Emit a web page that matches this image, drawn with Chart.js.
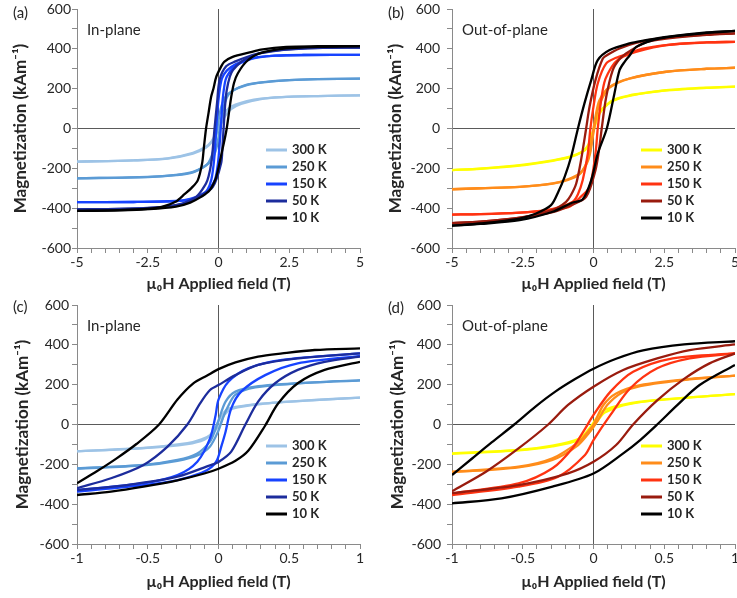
<!DOCTYPE html>
<html>
<head>
<meta charset="utf-8">
<script src="https://cdn.jsdelivr.net/npm/chart.js@4.4.1/dist/chart.umd.min.js"></script>
<style>
  body { margin: 0; background: #fff; }
  #wrap { position: relative; width: 737px; height: 598px; overflow: hidden; }
  canvas { position: absolute; }
</style>
</head>
<body>
<div id="wrap">
  <canvas id="panelA" width="368" height="298" style="left:0;top:0"></canvas>
  <canvas id="panelB" width="369" height="298" style="left:368px;top:0"></canvas>
  <canvas id="panelC" width="368" height="300" style="left:0;top:298px"></canvas>
  <canvas id="panelD" width="369" height="300" style="left:368px;top:298px"></canvas>
</div>
<script>
const temps = ['300 K', '250 K', '150 K', '50 K', '10 K'];
const magTicks = [-600, -400, -200, 0, 200, 400, 600];
const wideFieldTicks = [-5, -2.5, 0, 2.5, 5];
const narrowFieldTicks = [-1, -0.5, 0, 0.5, 1];

// (a) in-plane, full field range. [field T, M kA/m], down branch then up branch
const a300Down = [[5,166],[3.5,163],[2.5,160],[1.5,150],[1.0,138],[0.6,120],[0.35,100],[0.15,65],[0,15],[-0.1,-25],[-0.25,-65],[-0.45,-92],[-0.9,-122],[-1.8,-150],[-3,-160],[-5,-166]];
const a300Up = [[-5,-166],[-3,-160],[-1.8,-151],[-0.9,-126],[-0.45,-97],[-0.2,-62],[-0.05,-20],[0.1,25],[0.25,66],[0.45,98],[0.8,124],[1.5,148],[2.5,159],[3.5,163],[5,166]];
const a250Down = [[5,250],[3.5,248],[2.5,243],[1.5,230],[1.0,218],[0.5,190],[0.25,160],[0.1,110],[0,40],[-0.08,-30],[-0.2,-120],[-0.4,-180],[-0.9,-218],[-1.5,-233],[-2.5,-243],[-5,-250]];
const a250Up = [[-5,-250],[-2.5,-244],[-1.5,-234],[-0.9,-220],[-0.45,-186],[-0.25,-160],[-0.1,-112],[0,-45],[0.08,28],[0.2,118],[0.4,178],[0.9,216],[1.5,232],[2.5,243],[3.5,248],[5,250]];
const a150Down = [[5,370],[3,369],[2,366],[1.4,358],[1,345],[0.6,322],[0.3,292],[0.12,250],[0.02,170],[-0.04,80],[-0.09,-20],[-0.15,-150],[-0.25,-255],[-0.4,-310],[-0.6,-340],[-1,-357],[-1.5,-365],[-3,-369],[-5,-370]];
const a150Up = [[-5,-370],[-3,-369],[-1.5,-364],[-1,-353],[-0.6,-332],[-0.3,-297],[-0.12,-255],[-0.02,-175],[0.04,-80],[0.09,20],[0.15,150],[0.25,245],[0.4,285],[0.6,315],[1,342],[1.4,357],[2,366],[3,369],[5,370]];
const a50Down = [[5,406],[3.5,405],[2.3,396],[1.5,380],[1.1,364],[0.6,337],[0.27,312],[0.04,245],[-0.05,130],[-0.14,0],[-0.2,-100],[-0.26,-176],[-0.35,-240],[-0.44,-276],[-0.79,-343],[-1.5,-385],[-2.3,-398],[-3.5,-404],[-5,-406]];
const a50Up = [[-5,-406],[-3.5,-404],[-2.3,-397],[-1.26,-378],[-0.7,-342],[-0.2,-293],[0.09,-176],[0.14,-90],[0.18,0],[0.23,110],[0.29,192],[0.4,260],[0.51,293],[0.8,335],[1.1,358],[1.5,378],[2.3,395],[3.5,404],[5,406]];
const a10Down = [[5,414],[3.5,413],[2.4,410],[1.5,396],[1.1,382],[0.5,360],[0.2,335],[0.09,310],[-0.08,259],[-0.18,200],[-0.26,159],[-0.35,80],[-0.44,0],[-0.52,-100],[-0.58,-176],[-0.73,-259],[-0.95,-298],[-1.2,-330],[-1.5,-366],[-2,-393],[-2.5,-403],[-3.5,-410],[-5,-414]];
const a10Up = [[-5,-414],[-3.5,-411],[-2.44,-405],[-1.5,-392],[-1,-372],[-0.6,-342],[-0.32,-312],[-0.1,-252],[-0.02,-209],[0.1,-130],[0.21,-59],[0.29,0],[0.37,80],[0.45,159],[0.55,230],[0.68,276],[0.98,335],[1.45,377],[2.39,402],[3.5,410],[5,414]];

// (b) out-of-plane, full field range
const b300Down = [[5,210],[4,205],[2.57,192],[1.5,172],[1.27,166],[0.68,142],[0.33,101],[0.15,62],[0.07,28],[-0.02,-18],[-0.08,-55],[-0.2,-93],[-0.38,-116],[-0.8,-140],[-1.44,-160],[-2.61,-184],[-4,-201],[-5,-209]];
const b300Up = [[-5,-209],[-4,-202],[-2.61,-186],[-1.44,-162],[-0.8,-143],[-0.45,-122],[-0.25,-97],[-0.12,-62],[-0.05,-28],[0.05,14],[0.12,48],[0.3,94],[0.68,138],[1.27,164],[2.57,191],[4,204],[5,210]];
const b250Down = [[5,305],[4,300],[2.57,285],[1.27,251],[0.57,209],[0.21,142],[0.07,59],[0,0],[-0.07,-70],[-0.14,-125],[-0.3,-190],[-0.49,-226],[-0.9,-255],[-1.44,-276],[-2.61,-293],[-4,-300],[-5,-305]];
const b250Up = [[-5,-305],[-4,-300],[-2.61,-293],[-1.44,-277],[-0.9,-258],[-0.5,-230],[-0.25,-180],[-0.12,-125],[-0.03,-45],[0.05,20],[0.14,90],[0.3,150],[0.57,205],[1.27,250],[2.57,285],[4,300],[5,305]];
const b150Down = [[5,435],[4,432],[2.57,419],[1.7,400],[1.27,377],[0.8,355],[0.45,327],[0.15,226],[-0.02,92],[-0.11,0],[-0.2,-125],[-0.38,-259],[-0.55,-330],[-0.73,-368],[-1.2,-395],[-1.67,-410],[-2.6,-422],[-4,-430],[-5,-432]];
const b150Up = [[-5,-432],[-4,-430],[-2.6,-422],[-1.67,-412],[-1.2,-403],[-0.85,-393],[-0.5,-350],[-0.14,-293],[0.07,-125],[0.15,0],[0.27,142],[0.38,230],[0.51,276],[0.75,330],[1.04,360],[1.5,385],[2.57,419],[4,432],[5,435]];
const b50Down = [[5,478],[4,472],[2.33,452],[1.5,430],[0.92,402],[0.5,370],[0.33,351],[0.07,243],[-0.14,109],[-0.26,0],[-0.44,-159],[-0.61,-276],[-0.8,-335],[-0.97,-368],[-1.3,-400],[-1.67,-418],[-2.5,-445],[-4,-468],[-5,-475]];
const b50Up = [[-5,-475],[-4,-468],[-2.5,-446],[-1.44,-420],[-0.8,-385],[-0.26,-343],[0.07,-209],[0.21,-92],[0.29,0],[0.45,159],[0.68,293],[0.9,345],[1.15,377],[1.86,433],[2.5,450],[4,470],[5,478]];
const b10Down = [[5,490],[4,482],[2.57,460],[1.8,442],[1.27,427],[0.57,394],[0.15,343],[-0.08,243],[-0.32,126],[-0.55,0],[-0.79,-142],[-1.02,-243],[-1.25,-320],[-1.5,-385],[-2.03,-427],[-2.61,-452],[-4,-477],[-5,-488]];
const b10Up = [[-5,-488],[-4,-479],[-2.61,-460],[-1.44,-418],[-0.8,-375],[-0.38,-355],[-0.08,-259],[0.15,-126],[0.47,0],[0.74,176],[0.92,293],[1.1,335],[1.27,365],[1.51,410],[2.1,444],[2.57,458],[4,480],[5,490]];

// (c) in-plane, low field
const c300Down = [[1,135],[0.68,123],[0.33,106],[0.12,88],[0.05,70],[0.01,30],[-0.02,-10],[-0.06,-53],[-0.12,-75],[-0.22,-94],[-0.53,-118],[-1,-134]];
const c300Up = [[-1,-135],[-0.53,-119],[-0.22,-98],[-0.1,-76],[-0.04,-42],[0.01,0],[0.04,48],[0.1,80],[0.3,103],[0.68,122],[1,135]];
const c250Down = [[1,222],[0.56,207],[0.26,190],[0.12,165],[0.05,115],[0,20],[-0.03,-40],[-0.06,-86],[-0.15,-145],[-0.29,-178],[-0.53,-203],[-1,-220]];
const c250Up = [[-1,-222],[-0.53,-205],[-0.29,-182],[-0.15,-155],[-0.06,-110],[0,-30],[0.03,30],[0.06,80],[0.12,150],[0.26,186],[0.56,206],[1,222]];
const c150Down = [[1,357],[0.45,324],[0.21,282],[0.07,215],[0,125],[-0.02,48],[-0.06,-70],[-0.15,-187],[-0.29,-254],[-0.53,-295],[-1,-329]];
const c150Up = [[-1,-337],[-0.53,-304],[-0.29,-279],[-0.12,-243],[-0.05,-214],[-0.01,-178],[0.02,-110],[0.05,-36],[0.09,81],[0.16,165],[0.33,248],[0.56,307],[1,345]];
const c50Down = [[1,357],[0.56,332],[0.28,299],[0.12,248],[0,198],[-0.06,173],[-0.13,106],[-0.22,0],[-0.36,-111],[-0.53,-203],[-0.76,-270],[-1,-320]];
const c50Up = [[-1,-329],[-0.65,-304],[-0.29,-262],[-0.06,-205],[0,-188],[0.09,-136],[0.19,0],[0.28,115],[0.4,207],[0.56,274],[0.75,315],[1,341]];
const c10Down = [[1,382],[0.68,374],[0.45,357],[0.28,341],[0.12,312],[0,278],[-0.08,246],[-0.18,205],[-0.29,125],[-0.42,0],[-0.58,-98],[-0.72,-170],[-0.86,-235],[-1,-295]];
const c10Up = [[-1,-354],[-0.76,-337],[-0.53,-312],[-0.29,-280],[-0.1,-246],[0,-222],[0.12,-182],[0.21,-132],[0.33,-5],[0.42,104],[0.56,207],[0.75,274],[1,315]];

// (d) out-of-plane, low field
const d300Down = [[1,153],[0.45,123],[0.21,100],[0.07,70],[0.02,30],[-0.03,-20],[-0.1,-70],[-0.29,-106],[-0.53,-128],[-1,-145]];
const d300Up = [[-1,-147],[-0.53,-130],[-0.29,-110],[-0.1,-78],[-0.02,-30],[0.03,20],[0.08,60],[0.21,96],[0.45,122],[1,153]];
const d250Down = [[1,245],[0.68,229],[0.33,198],[0.16,156],[0.07,98],[0,0],[-0.05,-45],[-0.1,-86],[-0.29,-170],[-0.53,-212],[-1,-237]];
const d250Up = [[-1,-240],[-0.53,-215],[-0.29,-178],[-0.12,-110],[-0.03,-40],[0.03,20],[0.1,100],[0.2,160],[0.33,193],[0.68,227],[1,245]];
const d150Down = [[1,357],[0.56,332],[0.28,265],[0.12,165],[0,48],[-0.06,-22],[-0.15,-120],[-0.29,-220],[-0.53,-296],[-1,-346]];
const d150Up = [[-1,-354],[-0.53,-312],[-0.25,-262],[-0.06,-153],[0,-78],[0.12,48],[0.26,182],[0.45,282],[0.68,332],[1,357]];
const d50Down = [[1,402],[0.68,374],[0.45,332],[0.21,274],[0,190],[-0.18,98],[-0.32,0],[-0.53,-120],[-0.76,-237],[-1,-335]];
const d50Up = [[-1,-345],[-0.53,-304],[-0.18,-245],[0,-187],[0.16,-103],[0.28,0],[0.45,121],[0.64,229],[0.82,307],[1,357]];
const d10Down = [[1,418],[0.64,402],[0.35,372],[0.16,330],[0,280],[-0.13,228],[-0.27,165],[-0.41,90],[-0.56,0],[-0.72,-90],[-0.86,-172],[-1,-254]];
const d10Up = [[-1,-396],[-0.65,-371],[-0.29,-312],[0,-246],[0.21,-145],[0.33,-78],[0.45,0],[0.59,96],[0.75,198],[1,299]];

const blueColors = ['#9dc3e6', '#5b9bd5', '#1743ff', '#1c2c9c', '#000000'];
const redColors = ['#ffff00', '#ff8c1a', '#ff3311', '#991b0e', '#000000'];

const FONT = 'Lato, "DejaVu Sans", sans-serif';
const TEXT = '#262626';

const panels = [
  { id: 'panelA', letter: '(a)', label: 'In-plane', colors: blueColors, ticks: wideFieldTicks, step: 0.5,
    loops: [[a300Down, a300Up], [a250Down, a250Up], [a150Down, a150Up], [a50Down, a50Up], [a10Down, a10Up]],
    w: 368, h: 298, L: 77, R: 360, T: 9, B: 248, tickPad: 1, yTitlePad: 11, xTitlePad: 5, letterX: 13, letterY: 13 },
  { id: 'panelB', letter: '(b)', label: 'Out-of-plane', colors: redColors, ticks: wideFieldTicks, step: 0.5,
    loops: [[b300Down, b300Up], [b250Down, b250Up], [b150Down, b150Up], [b50Down, b50Up], [b10Down, b10Up]],
    w: 369, h: 298, L: 84, R: 367, T: 9, B: 248, tickPad: 7, yTitlePad: 18, xTitlePad: 5, letterX: 20, letterY: 13 },
  { id: 'panelC', letter: '(c)', label: 'In-plane', colors: blueColors, ticks: narrowFieldTicks, step: 0.1,
    loops: [[c300Down, c300Up], [c250Down, c250Up], [c150Down, c150Up], [c50Down, c50Up], [c10Down, c10Up]],
    w: 368, h: 300, L: 77, R: 360, T: 7, B: 246, tickPad: 3, yTitlePad: 13, xTitlePad: 7, letterX: 13, letterY: 9 },
  { id: 'panelD', letter: '(d)', label: 'Out-of-plane', colors: redColors, ticks: narrowFieldTicks, step: 0.1,
    loops: [[d300Down, d300Up], [d250Down, d250Up], [d150Down, d150Up], [d50Down, d50Up], [d10Down, d10Up]],
    w: 369, h: 300, L: 84, R: 367, T: 7, B: 246, tickPad: 6, yTitlePad: 20, xTitlePad: 7, letterX: 20, letterY: 10 }
];

function isZero(v) { return Math.abs(v) < 1e-9; }

function buildDatasets(p) {
  const out = [];
  p.loops.forEach((loop, i) => {
    loop.forEach(branch => {
      out.push({
        label: temps[i],
        data: branch.map(([x, y]) => ({ x, y })),
        showLine: true,
        borderColor: p.colors[i],
        borderWidth: 2.3,
        pointRadius: 0,
        tension: 0.3,
        order: temps.length - 1 - i
      });
    });
  });
  return out;
}

// panel letter, orientation label and the legend inside the plot
function annotations(p) {
  return {
    id: 'annot_' + p.id,
    afterDraw(chart) {
      const { ctx, chartArea: { left, top } } = chart;
      ctx.save();
      ctx.textBaseline = 'middle';
      ctx.textAlign = 'left';
      ctx.fillStyle = TEXT;
      ctx.font = '15px ' + FONT;
      ctx.fillText(p.letter, p.letterX, p.letterY);
      ctx.fillText(p.label, left + 10, top + 21);
      ctx.font = 'bold 13px ' + FONT;
      temps.forEach((t, i) => {
        const y = top + 141 + 17 * i;
        ctx.strokeStyle = p.colors[i];
        ctx.lineWidth = 3;
        ctx.beginPath();
        ctx.moveTo(left + 189, y);
        ctx.lineTo(left + 210, y);
        ctx.stroke();
        ctx.fillStyle = TEXT;
        ctx.fillText(t, left + 215, y);
      });
      ctx.restore();
    }
  };
}

panels.forEach(p => {
  const xMax = Math.max(...p.ticks);
  const zeroGrid = c => isZero(c.tick.value) ? '#5a5a5a' : 'rgba(0,0,0,0)';
  new Chart(document.getElementById(p.id), {
    type: 'scatter',
    data: { datasets: buildDatasets(p) },
    plugins: [annotations(p)],
    options: {
      responsive: false,
      animation: false,
      layout: { padding: { left: 0, right: p.w - p.R, top: p.T, bottom: 0 } },
      plugins: { legend: { display: false }, tooltip: { enabled: false } },
      scales: {
        x: {
          type: 'linear', min: -xMax, max: xMax,
          ticks: {
            stepSize: p.step, autoSkip: false, maxRotation: 0, padding: 1,
            color: TEXT, font: { family: FONT, size: 14 },
            callback: v => p.ticks.some(t => Math.abs(t - v) < 1e-9) ? String(v) : ''
          },
          grid: { color: zeroGrid, lineWidth: 1, tickColor: '#8a8a8a', tickLength: 5 },
          border: { color: '#8a8a8a', width: 1 },
          title: { display: true, text: 'µ₀H Applied field (T)', color: TEXT,
                   font: { family: FONT, size: 16, weight: 'bold' }, padding: { top: 0, bottom: p.xTitlePad } },
          afterFit: s => { s.height = p.h - p.B; s.paddingLeft = 0; s.paddingRight = 0; }
        },
        y: {
          type: 'linear', min: -600, max: 600,
          ticks: {
            stepSize: 100, autoSkip: false, padding: p.tickPad,
            color: TEXT, font: { family: FONT, size: 14 },
            callback: v => magTicks.includes(v) ? String(v) : ''
          },
          grid: { color: zeroGrid, lineWidth: 1, tickColor: '#8a8a8a', tickLength: 5 },
          border: { color: '#8a8a8a', width: 1 },
          title: { display: true, text: 'Magnetization (kAm⁻¹)', color: TEXT,
                   font: { family: FONT, size: 17, weight: 'bold' }, padding: { top: p.yTitlePad - 1, bottom: 0 } },
          afterFit: s => { s.width = p.L; s.paddingTop = 0; s.paddingBottom = 0; }
        }
      }
    }
  });
});
</script>
</body>
</html>
